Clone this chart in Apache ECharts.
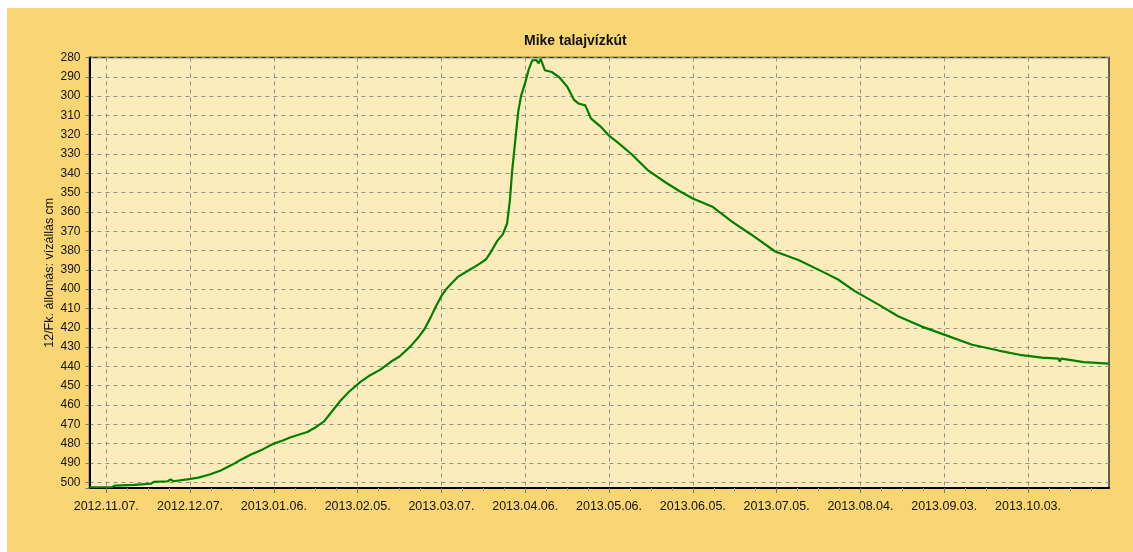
<!DOCTYPE html>
<html>
<head>
<meta charset="utf-8">
<script src="https://cdn.jsdelivr.net/npm/echarts@6/dist/echarts.min.js"></script>
<style>
  html, body { margin: 0; padding: 0; background: #ffffff; }
  #chart { position: absolute; left: 7px; top: 8px; width: 1126px; height: 544px; background: #F9D673; }
</style>
</head>
<body>
<div id="chart"></div>
<script>
// tengely feliratok (30 naponta, 2012.11.07-tol)
var tickLabels = ['2012.11.07.', '2012.12.07.', '2013.01.06.', '2013.02.05.', '2013.03.07.', '2013.04.06.',
    '2013.05.06.', '2013.06.05.', '2013.07.05.', '2013.08.04.', '2013.09.03.', '2013.10.03.'];

// napok 2012.11.07-tol szamolva
var days = [-6, 2, 3, 10, 16, 17, 22, 23, 24, 29, 33, 37, 41, 45, 48, 52, 56, 60, 63, 66, 72, 75, 78, 81, 84, 87,
    91, 94, 98, 102, 105, 109, 112, 114, 116, 118, 120, 122, 126, 131, 134, 136, 138, 140, 142, 143.5, 144.5,
    145.3, 146.5, 147.5, 148.5, 150, 151.3, 152.5, 154, 154.8, 155.5, 157, 159.5, 162, 165, 167.5, 169, 171.5,
    173.5, 177, 180, 183.5, 188, 194, 200, 205, 210, 217, 224, 231, 239.5, 248, 257.5, 262, 268, 276.5, 283.5,
    292, 300.5, 310, 319.5, 327, 335, 341, 341.3, 342, 350, 359];

// vizallas cm
var levels = [502.6, 502.6, 501.8, 501.4, 500.8, 499.8, 499.5, 498.5, 499.5, 498.5, 497.6, 496, 493.9, 491, 488.5,
    485.5, 483, 480, 478.5, 476.7, 474, 471.5, 468.5, 463, 457.5, 453, 448, 445, 441.8, 437.5, 434.9, 429.5, 424.5,
    420.5, 415, 409, 403.5, 399.5, 393.5, 389.2, 386.5, 384.5, 380, 375, 371.5, 366, 354, 339, 322, 308, 300, 293,
    286, 281.5, 281.3, 283, 280.6, 286.6, 287.5, 290, 295, 302, 303.8, 304.8, 311.5, 315.8, 320.5, 324.5, 330,
    338.5, 344.5, 349, 353, 357.3, 365, 371.8, 380.5, 385, 391.7, 395, 401, 408, 414, 419.4, 423.8, 428.8, 431.8,
    434, 435.5, 436, 437.5, 436, 437.8, 438.6];

var tickStep = 30;
var majorTicks = tickLabels.map(function (l, i) { return i * tickStep; });
var minorTicks = [];
for (var t = 0; t < 360; t += tickStep / 4) {
    if (t % tickStep !== 0) minorTicks.push(t);
}

var seriesData = days.map(function (d, i) { return [d, levels[i]]; });

var chart = echarts.init(document.getElementById('chart'));

var option = {
    animation: false,
    title: {
        text: 'Mike talajvízkút',
        left: 517,
        top: 26,
        padding: 0,
        textStyle: {
            fontFamily: 'Liberation Sans, Arial, sans-serif',
            fontSize: 14,
            fontWeight: 'bold',
            color: '#111'
        }
    },
    grid: {
        left: 82.5,
        right: 24,
        top: 49.5,
        bottom: 64,
        show: true,
        backgroundColor: '#FCEBBB',
        borderColor: '#333',
        borderWidth: 1.5
    },
    xAxis: [{
        type: 'value',
        min: -6,
        max: 359,
        axisLine: { show: true, onZero: false, lineStyle: { color: '#000', width: 2 } },
        axisTick: { show: true, customValues: majorTicks, length: 5, lineStyle: { color: '#777' } },
        axisLabel: {
            customValues: majorTicks,
            formatter: function (v) { return tickLabels[Math.round(v / tickStep)]; },
            color: '#111',
            fontSize: 12.5,
            fontFamily: 'Liberation Sans, Arial, sans-serif',
            margin: 12
        },
        splitLine: { show: true, lineStyle: { color: '#909090', type: [4, 4], width: 1 } }
    }, {
        type: 'value',
        position: 'bottom',
        min: -6,
        max: 359,
        axisLine: { show: false },
        axisTick: { show: true, customValues: minorTicks, length: 3, lineStyle: { color: '#999' } },
        axisLabel: { show: false },
        splitLine: { show: false }
    }],
    yAxis: {
        type: 'value',
        inverse: true,
        min: 280,
        max: 503,
        interval: 10,
        name: '12/Fk. állomás: vízállás cm',
        nameLocation: 'middle',
        nameGap: 33,
        nameMoveOverlap: false,
        nameTextStyle: { color: '#111', fontSize: 12.5, fontFamily: 'Liberation Sans, Arial, sans-serif' },
        axisLine: { show: true, onZero: false, lineStyle: { color: '#000', width: 2 } },
        axisTick: { show: true, length: 4, lineStyle: { color: '#777' } },
        axisLabel: {
            formatter: function (v) { return v % 10 === 0 ? v : ''; },
            color: '#111',
            fontSize: 12,
            fontFamily: 'Liberation Sans, Arial, sans-serif',
            margin: 9
        },
        splitLine: { show: true, lineStyle: { color: '#909090', type: [4, 4], width: 1 } }
    },
    series: [{
        type: 'line',
        data: seriesData,
        showSymbol: false,
        lineStyle: { color: '#008000', width: 2.2 },
        itemStyle: { color: '#008000' }
    }]
};

chart.setOption(option);
</script>
</body>
</html>
